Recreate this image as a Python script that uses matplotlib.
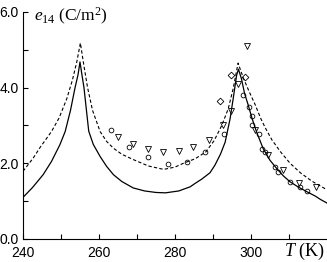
import matplotlib
matplotlib.use("Agg")
import matplotlib.pyplot as plt
from matplotlib.ticker import MultipleLocator, FixedLocator

# ── Data ──────────────────────────────────────────────────────────────────────
# solid theory curve
T_solid = [240, 242.5, 245.3, 247.5, 249.7, 251.1, 252.5, 253.7, 254.5, 255.0,
           255.5, 256.05, 256.7, 257.3, 258.5, 260.3, 262, 263.8, 266, 269,
           272, 275, 277.5, 281, 284, 285.3, 287, 289.2, 290.5, 292,
           293.2, 294.5, 295.3, 296.2, 296.7, 297.5, 298.3, 299.3, 300.3, 301.5,
           303.2, 305, 306.8, 308.5, 310.3, 312.5, 314.7, 317, 318.2, 320]
e_solid = [1.10, 1.36, 1.70, 2.05, 2.49, 2.84, 3.40, 4.00, 4.35, 4.68,
           4.35, 4.00, 3.40, 2.85, 2.50, 2.18, 1.92, 1.70, 1.52, 1.35,
           1.27, 1.23, 1.22, 1.27, 1.38, 1.47, 1.58, 1.75, 1.95, 2.25,
           2.56, 3.18, 3.70, 4.32, 4.49, 4.23, 3.85, 3.53, 3.18, 2.82,
           2.39, 2.08, 1.86, 1.67, 1.51, 1.37, 1.25, 1.13, 1.05, 0.95]

# dashed theory curve
T_dash = [240, 242.7, 244.5, 247.5, 249.5, 251.5, 253, 254.2, 255.1, 256,
          257, 258.3, 260.3, 262, 263.8, 266, 269, 273, 277, 280,
          282.4, 285.3, 288.1, 290.3, 292.3, 294.0, 295.3, 296.6, 298.0, 299.5,
          301.1, 302.5, 303.7, 305.5, 307.8, 310.3, 313, 316, 320]
e_dash = [1.79, 2.14, 2.42, 2.84, 3.20, 3.70, 4.20, 4.70, 5.18, 4.60,
          4.00, 3.40, 2.84, 2.58, 2.40, 2.24, 2.10, 1.93, 1.84, 1.90,
          2.01, 2.12, 2.30, 2.60, 3.00, 3.44, 3.97, 4.65, 4.25, 3.90,
          3.55, 3.20, 2.95, 2.62, 2.30, 2.00, 1.75, 1.53, 1.30]

# experimental points
T_circ = [263.1, 268.0, 273.0, 278.1, 283.1, 288.0, 293.0, 297.8, 299.6, 300.3,
          300.2, 302.0, 302.8, 303.7, 306.3, 307.2, 310.3, 312.9, 314.7]
e_circ = [2.89, 2.43, 2.18, 1.97, 2.03, 2.30, 2.78, 3.81, 3.48, 3.24,
          3.00, 2.78, 2.39, 2.30, 1.90, 1.77, 1.51, 1.38, 1.26]

T_tri = [265.1, 269.0, 273.0, 276.9, 281.0, 284.8, 288.9, 292.7, 294.7, 296.7,
         298.9, 301.1, 304.6, 308.5, 312.7, 317.1]
e_tri = [2.69, 2.52, 2.39, 2.30, 2.32, 2.42, 2.61, 3.00, 3.39, 4.10,
         5.11, 2.87, 2.23, 1.82, 1.49, 1.38]

T_dia = [291.8, 294.7, 298.4]
e_dia = [3.66, 4.33, 4.27]

x_major = [240, 260, 280, 300]
x_minor = [250, 270, 290, 310]
y_major = [0, 2, 4, 6]
y_labels = ["0.0", "2.0", "4.0", "6.0"]

# ── Figure ────────────────────────────────────────────────────────────────────
plt.rcParams["font.family"] = ["Liberation Sans", "DejaVu Sans"]
plt.rcParams["mathtext.fontset"] = "custom"
plt.rcParams["mathtext.rm"] = "Liberation Serif"
plt.rcParams["mathtext.it"] = "Liberation Serif:italic"

fig = plt.figure(figsize=(3.27, 2.62), dpi=100)
ax = fig.add_axes([0.0703, 0.0878, 0.9297, 0.8664])

ax.plot(T_solid, e_solid, color="black", lw=0.9)
ax.plot(T_dash, e_dash, color="black", lw=0.8, ls=(0, (3, 2)))

mk = dict(ls="none", mfc="none", mec="black", mew=0.6)
ax.plot(T_circ, e_circ, marker="o", ms=3.4, **mk)
ax.plot(T_tri, e_tri, marker="v", ms=4.0, **mk)
ax.plot(T_dia, e_dia, marker="D", ms=3.4, **mk)

ax.set_xlim(240, 320)
ax.set_ylim(0, 6)
for s in ("top", "right"):
    ax.spines[s].set_visible(False)
for s in ("left", "bottom"):
    ax.spines[s].set_linewidth(0.8)

ax.xaxis.set_major_locator(FixedLocator(x_major))
ax.xaxis.set_minor_locator(FixedLocator(x_minor))
ax.set_yticks(y_major)
ax.set_yticklabels(y_labels)
ax.yaxis.set_minor_locator(MultipleLocator(1))
ax.tick_params(which="both", direction="in", length=3.5, width=0.8,
               labelsize=10)
ax.tick_params(axis="x", pad=5)
ax.tick_params(axis="y", pad=3)

ax.text(314.0, -0.33, r"$T$ (K)", fontsize=13, ha="center", va="center",
        family="Liberation Serif", clip_on=False)
ax.text(243.0, 5.88, r"$e_{14}$ (C/m$^2$)", fontsize=12.5, ha="left",
        va="center", family="Liberation Serif")

fig.savefig("out.png", dpi=100)
